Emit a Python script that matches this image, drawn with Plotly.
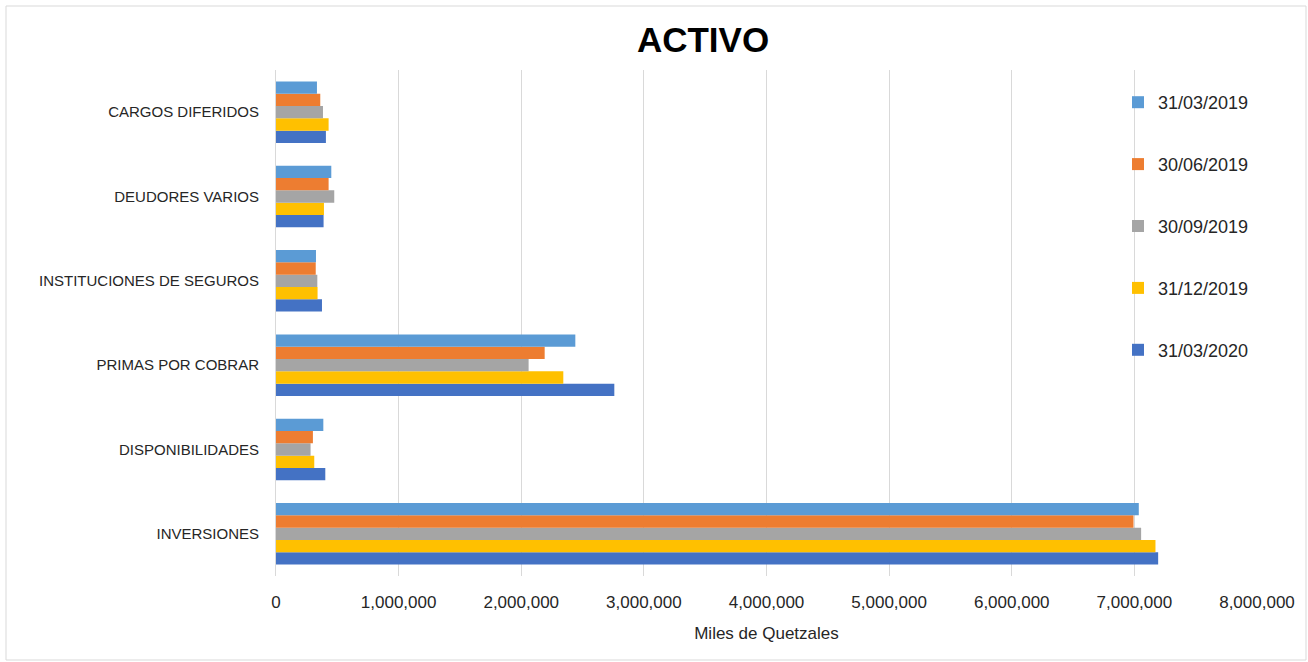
import plotly.graph_objects as go

categories = ["INVERSIONES", "DISPONIBILIDADES", "PRIMAS POR COBRAR",
              "INSTITUCIONES DE SEGUROS", "DEUDORES VARIOS", "CARGOS DIFERIDOS"]

# values in Miles de Quetzales, order matches categories
s_2020_03 = [7194000, 402000, 2759000, 375000, 388000, 407000]
s_2019_12 = [7172000, 312000, 2343000, 339000, 391000, 429000]
s_2019_09 = [7055000, 282000, 2060000, 337000, 475000, 383000]
s_2019_06 = [6993000, 301000, 2191000, 324000, 429000, 361000]
s_2019_03 = [7036000, 386000, 2441000, 326000, 451000, 334000]

series_names = ["31/03/2020", "31/12/2019", "30/09/2019", "30/06/2019", "31/03/2019"]
series_values = [s_2020_03, s_2019_12, s_2019_09, s_2019_06, s_2019_03]
series_colors = ["#4472C4", "#FFC000", "#A5A5A5", "#ED7D31", "#5B9BD5"]
legend_ranks = [5, 4, 3, 2, 1]

x_ticks = [0, 1000000, 2000000, 3000000, 4000000, 5000000, 6000000, 7000000, 8000000]
x_tick_labels = ["0", "1,000,000", "2,000,000", "3,000,000", "4,000,000",
                 "5,000,000", "6,000,000", "7,000,000", "8,000,000"]

W, H = 1308, 662
L, R, T, B = 276, 1257, 70, 576
FONT = "Liberation Sans, Arial, sans-serif"

fig = go.Figure()
for name, vals, col, rk in zip(series_names, series_values, series_colors, legend_ranks):
    fig.add_trace(go.Bar(
        y=categories, x=vals, name=name, orientation="h",
        marker=dict(color=col, line=dict(width=0)),
        legendgroup=name, legendrank=rk,
    ))

fig.update_layout(
    width=W, height=H,
    margin=dict(l=L, r=W - R, t=T, b=H - B, pad=0),
    paper_bgcolor="white", plot_bgcolor="white",
    barmode="group", bargap=0.27, bargroupgap=0,
    font=dict(family=FONT, color="#000000", size=15),
    title=dict(text="<b>ACTIVO</b>", x=703 / W, xref="container", xanchor="center",
               y=1 - 40 / H, yref="container", yanchor="middle",
               font=dict(size=35, family=FONT, color="#000")),
    legend=dict(x=(1118 - L) / (R - L), y=(B - 84) / (B - T), xanchor="left", yanchor="top",
                traceorder="grouped", tracegroupgap=35.5,
                bgcolor="rgba(0,0,0,0)", font=dict(size=18, color="#262626")),
    showlegend=True,
)

fig.update_xaxes(
    range=[0, 8000000], tickvals=x_ticks, ticktext=x_tick_labels,
    showgrid=True, gridcolor="#D9D9D9", gridwidth=1, zeroline=False,
    showline=False, ticks="", ticklabelstandoff=14,
    tickfont=dict(size=17, color="#262626"),
    title=dict(text="Miles de Quetzales", font=dict(size=17, color="#262626"), standoff=16),
)
fig.update_yaxes(
    categoryorder="array", categoryarray=categories,
    showgrid=False, showline=True, linecolor="#D9D9D9", linewidth=1,
    ticks="", ticklabelstandoff=13,
    tickfont=dict(size=15, color="#262626"),
)

# outer chart border
fig.add_shape(type="rect", xref="paper", yref="paper",
              x0=(6 - L) / (R - L), x1=(1306 - L) / (R - L),
              y0=(B - 660) / (B - T), y1=(B - 6) / (B - T),
              line=dict(color="#D9D9D9", width=1), fillcolor="rgba(0,0,0,0)", layer="below")

fig.write_html("out.html", config={"displayModeBar": False},
               post_script="document.body.style.margin='0';document.body.style.overflow='hidden';")
